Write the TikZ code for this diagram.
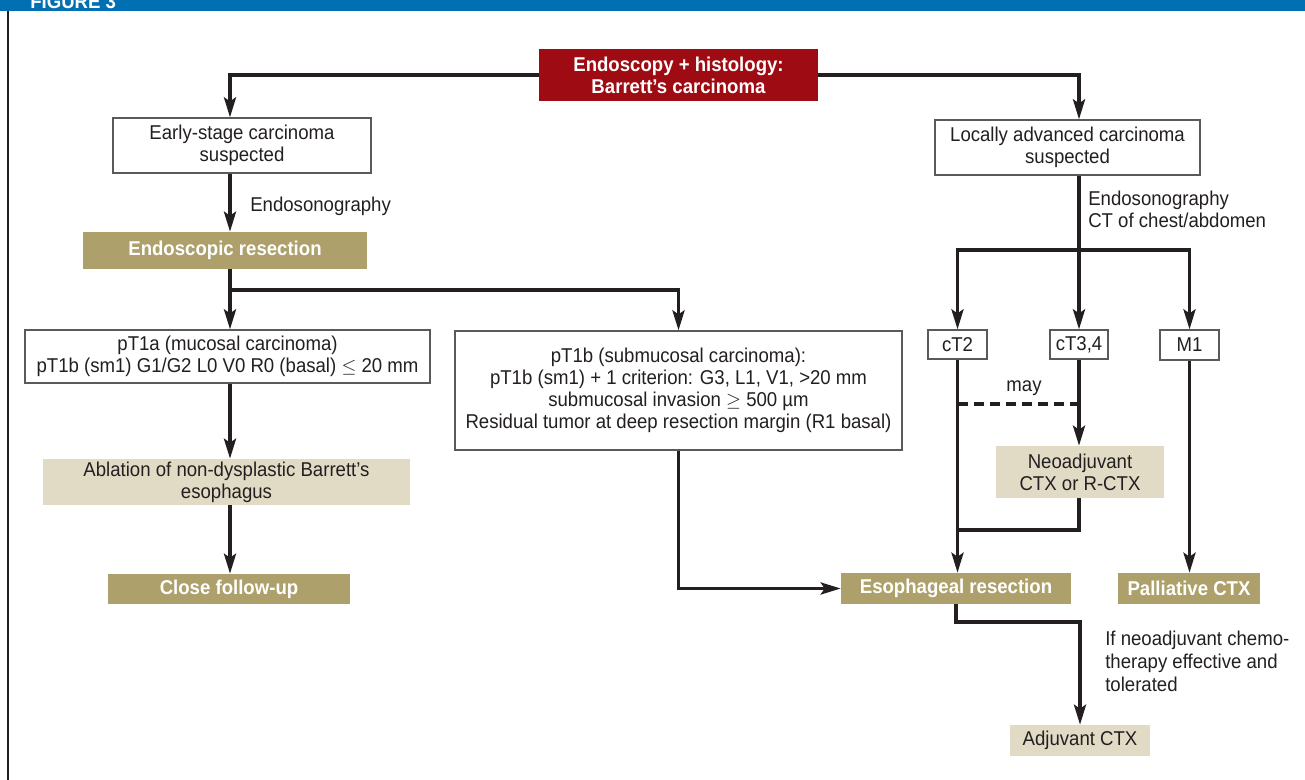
\documentclass[tikz,border=0pt]{standalone}
\usepackage{fontspec}
\setmainfont{Liberation Sans}[FakeStretch=0.93]
\usetikzlibrary{arrows.meta,calc}
\definecolor{ink}{HTML}{231F20}
\definecolor{hdrblue}{HTML}{0070B2}
\definecolor{boxred}{HTML}{9E0B12}
\definecolor{khaki}{HTML}{ADA06B}
\definecolor{beige}{HTML}{E1DBC5}
\definecolor{frame}{HTML}{5A5A5A}
\newcommand{\txt}{\fontsize{15}{16.5}\selectfont}
\tikzset{
  dims/.style n args={4}{at={($(#1,#2)!0.5!(#3,#4)$)}, minimum width={(#3-#1)*0.75pt}, minimum height={(#4-#2)*0.75pt}},
  base/.style={inner sep=0pt, align=center, text=ink, font=\txt},
  whitebox/.style={base, draw=frame, line width=0.9pt, fill=white},
  redbox/.style={base, fill=boxred, text=white, font=\txt\bfseries},
  khakibox/.style={base, fill=khaki, text=white, font=\txt\bfseries},
  beigebox/.style={base, fill=beige},
  lbl/.style={inner sep=0pt, text=ink, align=left, font=\txt},
  conn/.style={draw=ink, line width=2.7pt},
  arr/.style={conn, -{Stealth[length=15pt, width=9pt, inset=3pt]}},
}
\begin{document}
\begin{tikzpicture}[x=0.75pt, y=-0.75pt]
\useasboundingbox (0,0) rectangle (1305,780);
% header
\fill[hdrblue] (0,0) rectangle (1305,11);
\begin{scope}
  \clip (0,0) rectangle (1305,11);
  \node[anchor=base west, inner sep=0pt, text=white, font=\fontsize{15}{16}\selectfont\bfseries] (fig) at (30,9) {FIGURE 3};
\end{scope}
\draw[ink, line width=1.9pt] (8,11) -- (8,780);

% x positions
\coordinate (xA) at (230,0);
\coordinate (xB) at (1079,0);

% nodes
\node[redbox, dims={539}{49}{818}{101}] (top) {Endoscopy + histology:\\Barrett’s carcinoma};
\node[whitebox, dims={113}{118}{371}{173}] (early) {Early-stage carcinoma\\suspected};
\node[whitebox, dims={935}{120}{1200}{175}] (locally) {Locally advanced carcinoma\\suspected};
\node[khakibox, dims={83}{232}{367}{269}] (endores) {Endoscopic resection};
\node[whitebox, dims={25}{330}{430}{383}] (pt1a) {pT1a (mucosal carcinoma)\\pT1b (sm1) G1/G2 L0 V0 R0 (basal) $\leq$ 20 mm};
\node[whitebox, dims={455}{331}{902}{450}] (pt1b) {pT1b (submucosal carcinoma):\\pT1b (sm1) + 1 criterion: G3, L1, V1, >20 mm\\submucosal invasion $\geq$ 500 µm\\Residual tumor at deep resection margin (R1 basal)};
\node[beigebox, dims={43}{459}{410}{505}] (ablation) {Ablation of non-dysplastic Barrett’s\\esophagus};
\node[khakibox, dims={108}{574}{350}{604}] (close) {Close follow-up};
\node[whitebox, dims={928}{330}{987}{359}] (ct2) {cT2};
\node[whitebox, dims={1050}{330}{1108}{359}] (ct34) {cT3,4};
\node[whitebox, dims={1160}{330}{1219}{360}] (m1) {M1};
\node[beigebox, dims={996}{446}{1164}{498}] (neo) {Neoadjuvant\\CTX or R-CTX};
\node[khakibox, dims={841}{573}{1071}{604}] (esores) {Esophageal resection};
\node[khakibox, dims={1118}{573}{1260}{604}] (pall) {Palliative CTX};
\node[beigebox, dims={1010}{725}{1150}{756}] (adj) {Adjuvant CTX};

% labels
\node[lbl, anchor=west] (l1) at (250,206) {Endosonography};
\node[lbl, anchor=north west] (l2) at (1088,191) {Endosonography\\CT of chest/abdomen};
\node[lbl, anchor=center] (l3) at (1024,388) {may};
\node[lbl, anchor=north west, font=\fontsize{15}{17}\selectfont] (l4) at (1105,631) {If neoadjuvant chemo-\\therapy effective and\\tolerated};

% coordinates for branches
\coordinate (b1) at (230,290);
\coordinate (b2) at (1079,250);
\coordinate (d1) at (1079,404);
\coordinate (j1) at (1079,530);

% connectors
\draw[arr] (top.west) -| (early.north -| xA);
\draw[arr] (top.east) -| (locally.north -| xB);
\draw[arr] (early.south -| xA) -- (endores.north -| xA);
\draw[arr] (endores.south -| xA) -- (pt1a.north -| xA);
\draw[arr] (b1) -| (pt1b.north);
\draw[arr] (pt1a.south -| xA) -- (ablation.north -| xA);
\draw[arr] (ablation.south -| xA) -- (close.north -| xA);
\draw[arr] (pt1b.south) |- (esores.west);
\draw[conn] (locally.south -| xB) -- (b2);
\draw[arr] (b2) -| (ct2.north);
\draw[arr] (b2) -| (m1.north);
\draw[arr] (b2) -- (ct34.north -| xB);
\draw[arr] (ct2.south) -- (esores.north -| ct2.south);
\draw[arr] (ct34.south -| xB) -- (neo.north -| xB);
\draw[conn, dash pattern=on 7.5pt off 4.5pt] (ct2.south |- d1) -- (d1);
\draw[conn] (neo.south -| xB) -- (j1) -- (ct2.south |- j1);
\draw[arr] (m1.south) -- (pall.north -| m1.south);
\draw[arr] (esores.south) -- ++(0,18) -| (adj.north);
\end{tikzpicture}
\end{document}
